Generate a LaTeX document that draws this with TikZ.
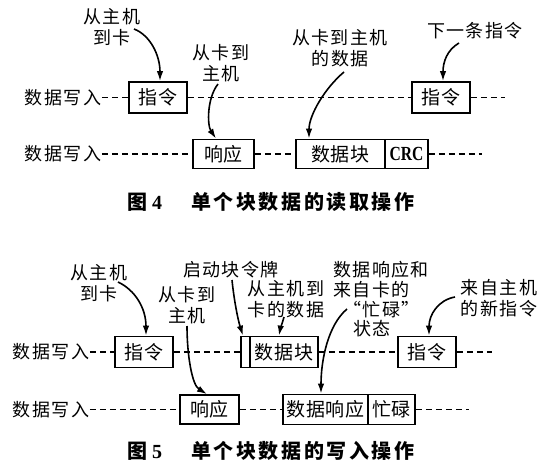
\documentclass[tikz,border=0pt]{standalone}
\usepackage{fontspec}
\usepackage{graphicx}
\setmainfont{Noto Sans CJK SC}
\newfontfamily\numf{Liberation Serif}
\usetikzlibrary{arrows.meta}
\tikzset{
  lbl/.style={inner sep=0pt, align=center, font=\fontsize{18}{20.5}\selectfont\addfontfeature{LetterSpace=8}},
  rowlab/.style={inner sep=0pt, font=\fontsize{18}{18}\selectfont\addfontfeature{LetterSpace=10}},
  box/.style={draw, line width=1.8pt, inner sep=0pt, font=\fontsize{19}{19}\selectfont\addfontfeature{LetterSpace=5}},
  dl/.style={line width=1.5pt, dash pattern=on 6pt off 4pt},
  arr/.style={line width=1.6pt, -{Latex[length=10pt,width=6.5pt]}},
  captxt/.style={inner sep=0pt, font=\fontsize{20}{20}\selectfont\bfseries\addfontfeature{LetterSpace=13}}
}
\begin{document}
\begin{tikzpicture}[x=1pt,y=-1pt]
\useasboundingbox[fill=white] (0,0) rectangle (544,466);
% ---------- Figure 4 ----------
\node[rowlab] (r1) at (63,97.5) {数据写入};
\node[box, minimum width=58, minimum height=31] (c1) at (158,97.5) {指令};
\node[box, minimum width=58, minimum height=31] (c2) at (441,97.5) {指令};
\coordinate (e1) at (505,97.5);
\draw[dl] (r1.east) -- (c1.west);
\draw[dl] (c1.east) -- (c2.west);
\draw[dl] (c2.east) -- (e1);

\node[rowlab] (r2) at (63,154) {数据写入};
\node[box, minimum width=61, minimum height=29] (p1) at (223.5,154) {响应};
\node[box, minimum width=89, minimum height=29] (d1) at (340.5,154) {数据块};
\node[box, minimum width=43, minimum height=29, font=\numf\fontsize{20}{20}\selectfont\bfseries] (k1) at (406.5,154) {\scalebox{0.78}[1]{CRC}};
\coordinate (e2) at (482,154);
\draw[dl] (r2.east) -- (p1.west);
\draw[dl] (p1.east) -- (d1.west);
\draw[dl] (k1.east) -- (e2);

\node[lbl] (l1) at (112,27) {从主机\\到卡};
\node[lbl] (l2) at (221,63) {从卡到\\主机};
\node[lbl] (l3) at (340,48) {从卡到主机\\的数据};
\node[lbl] (l4) at (475,31) {下一条指令};

\coordinate (s1) at (134,29);
\coordinate (s2) at (218,84);
\coordinate (s3) at (344,72);
\coordinate (s4) at (459,43);
\draw[arr] (s1) .. controls (150,35) and (160,55) .. (c1.north -| 160,0);
\draw[arr] (s2) .. controls (207,98) and (207,125) .. (p1.north -| 216,0);
\draw[arr] (s3) .. controls (325,88) and (309,115) .. (d1.north -| 309,0);
\draw[arr] (s4) .. controls (447,50) and (443,62) .. (c2.north -| 443,0);

\node[captxt, anchor=west] (f4) at (127,202) {图\hspace{5pt}{\numf\bfseries 4}};
\node[captxt, anchor=west] (t4) at (191,202) {单个块数据的读取操作};

% ---------- Figure 5 ----------
\node[rowlab] (r3) at (51,352) {数据写入};
\node[box, minimum width=58, minimum height=31] (c3) at (144,352) {指令};
\node[box, minimum width=9, minimum height=31] (tk) at (245.5,352) {};
\node[box, minimum width=68, minimum height=31] (d2) at (284,352) {数据块};
\node[box, minimum width=58, minimum height=31] (c4) at (427,352) {指令};
\coordinate (e3) at (492,352);
\draw[dl] (r3.east) -- (c3.west);
\draw[dl] (c3.east) -- (tk.west);
\draw[dl] (d2.east) -- (c4.west);
\draw[dl] (c4.east) -- (e3);

\node[rowlab] (r4) at (51,409.5) {数据写入};
\node[box, minimum width=59, minimum height=29] (p2) at (209.5,409.5) {响应};
\node[box, minimum width=85, minimum height=30] (dr) at (325.5,409.5) {数据响应};
\node[box, minimum width=47, minimum height=30] (bs) at (391.5,409.5) {忙碌};
\coordinate (e4) at (469,409.5);
\draw[dl] (r4.east) -- (p2.west);
\draw[dl] (p2.east) -- (dr.west);
\draw[dl] (bs.east) -- (e4);

\node[lbl] (m1) at (99,283) {从主机\\到卡};
\node[lbl] (m2) at (187,305) {从卡到\\主机};
\node[lbl] (m3) at (231,270) {启动块令牌};
\node[lbl] (m4) at (286,299) {从主机到\\卡的数据};
\node[lbl, anchor=west] (m5a) at (333,270) {数据响应和};
\node[lbl, anchor=west] (m5b) at (333,290) {来自卡的};
\node[lbl, anchor=west] (m5c) at (343,310) {“忙碌”};
\node[lbl, anchor=west] (m5d) at (353,329) {状态};
\node[lbl] (m6) at (499,298) {来自主机\\的新指令};

\coordinate (u1) at (118,282);
\coordinate (u2) at (187,326);
\coordinate (u3) at (232,280);
\coordinate (u4) at (284,317);
\coordinate (u5) at (347,309);
\coordinate (u6) at (455,297);
\draw[arr] (u1) .. controls (135,290) and (146,308) .. (c3.north -| 146,0);
\draw[arr] (u2) .. controls (187,355) and (192,385) .. (p2.north -| 207,0);
\draw[arr] (u3) .. controls (234,300) and (238,320) .. (tk.north -| 243,0);
\draw[arr] (u4) .. controls (282,324) and (280,330) .. (d2.north -| 279,0);
\draw[arr] (u5) .. controls (328,325) and (321,360) .. (dr.north -| 321,0);
\draw[arr] (u6) .. controls (438,300) and (429,315) .. (c4.north -| 429,0);

\node[captxt, anchor=west] (f5) at (127,451) {图\hspace{5pt}{\numf\bfseries 5}};
\node[captxt, anchor=west] (t5) at (191,451) {单个块数据的写入操作};
\end{tikzpicture}
\end{document}
